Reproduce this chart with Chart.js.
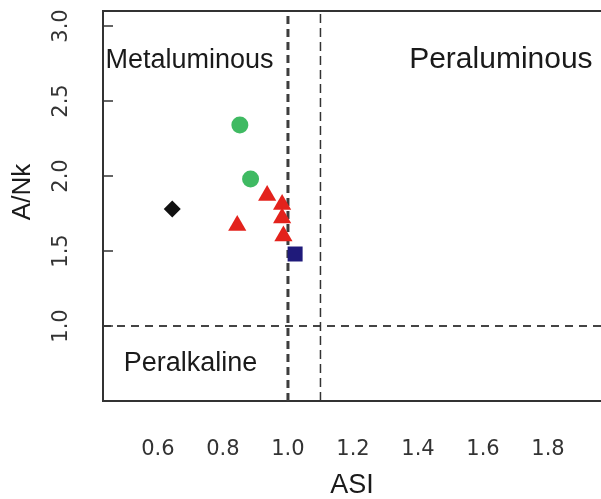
<!DOCTYPE html>
<html>
<head>
<meta charset="utf-8">
<script src="https://cdn.jsdelivr.net/npm/chart.js@4.4.0/dist/chart.umd.min.js"></script>
<style>
  html, body { margin: 0; padding: 0; background: #fff; overflow: hidden; }
</style>
</head>
<body>
<canvas id="myChart" width="601" height="499"></canvas>
<script>
// tick labels
const xTicks = [0.6, 0.8, 1.0, 1.2, 1.4, 1.6, 1.8];
const yTicks = [1.0, 1.5, 2.0, 2.5, 3.0];

// samples (ASI, A/NK)
const greenAsi = [0.852, 0.885];
const greenAnk = [2.34, 1.98];
const blackAsi = [0.644];
const blackAnk = [1.78];
const redAsi = [0.936, 0.982, 0.982, 0.844, 0.986];
const redAnk = [1.87, 1.81, 1.72, 1.67, 1.60];
const blueAsi = [1.022];
const blueAnk = [1.48];

// field boundaries
const asiBound = [1.0, 1.1];
const ankBound = [1.0];

// axis ranges
const xMin = 0.431, xMax = 1.963;
const yMin = 0.5, yMax = 3.1;

// field names and where they sit
const regionNames = ['Metaluminous', 'Peraluminous', 'Peralkaline'];
const regionAsi = [0.697, 1.655, 0.70];
const regionAnk = [2.72, 2.72, 0.70];

function pts(xs, ys) {
    return xs.map((v, i) => ({ x: v, y: ys[i] }));
}

const lineSets = [
    { label: 'ASI 1.0', data: [{ x: asiBound[0], y: yMin }, { x: asiBound[0], y: yMax }],
      borderColor: '#3d3d3d', borderWidth: 3, borderDash: [8, 5] },
    { label: 'ASI 1.1', data: [{ x: asiBound[1], y: yMin }, { x: asiBound[1], y: yMax }],
      borderColor: '#333', borderWidth: 1.5, borderDash: [9, 5] },
    { label: 'A/NK 1.0', data: [{ x: xMin, y: ankBound[0] }, { x: xMax, y: ankBound[0] }],
      borderColor: '#444', borderWidth: 2, borderDash: [8, 6] }
].map(d => Object.assign(d, { showLine: true, pointRadius: 0, fill: false }));

const data = {
    datasets: [
      { label: 'green', data: pts(greenAsi, greenAnk), pointStyle: 'circle', pointRadius: 8.5,
        backgroundColor: '#3fba62', borderWidth: 0 },
      { label: 'black', data: pts(blackAsi, blackAnk), pointStyle: 'rectRot', pointRadius: 8.5,
        backgroundColor: '#111', borderWidth: 0 },
      { label: 'red', data: pts(redAsi, redAnk), pointStyle: 'triangle', pointRadius: 10.5,
        backgroundColor: '#e3221c', borderWidth: 0 },
      { label: 'blue', data: pts(blueAsi, blueAnk), pointStyle: 'rect', pointRadius: 10.6,
        backgroundColor: '#1f1a7a', borderWidth: 0 }
    ].concat(lineSets)
};

const regionSizes = [27, 30, 27];

const framePlugin = {
    id: 'frame',
    afterDatasetsDraw(chart) {
        const { ctx, chartArea, scales: { x, y } } = chart;
        ctx.save();
        ctx.strokeStyle = '#333';
        ctx.lineWidth = 2;
        ctx.beginPath();
        ctx.moveTo(chartArea.left, chartArea.top);
        ctx.lineTo(chartArea.right, chartArea.top);
        ctx.stroke();
        // inward tick marks on the left axis
        ctx.lineWidth = 1.5;
        ctx.beginPath();
        yTicks.forEach(v => {
            const py = y.getPixelForValue(v);
            ctx.moveTo(chartArea.left, py);
            ctx.lineTo(chartArea.left + 10, py);
        });
        ctx.stroke();
        ctx.fillStyle = '#1a1a1a';
        ctx.textAlign = 'center';
        ctx.textBaseline = 'alphabetic';
        regionNames.forEach((t, i) => {
            ctx.font = regionSizes[i] + 'px "Liberation Sans", Arial, sans-serif';
            ctx.fillText(t, x.getPixelForValue(regionAsi[i]), y.getPixelForValue(regionAnk[i]));
        });
        // y axis title, sits a little above the middle in the original
        ctx.font = '26px "Liberation Sans", Arial, sans-serif';
        ctx.textBaseline = 'middle';
        ctx.translate(23, 192);
        ctx.rotate(-Math.PI / 2);
        ctx.fillText('A/Nk', 0, 0);
        ctx.restore();
    }
};

function noPad(s) {
    s.paddingTop = 0;
    s.paddingBottom = 0;
    s.paddingLeft = 0;
    s.paddingRight = 0;
}

const tickFont = { family: '"DejaVu Sans", sans-serif', size: 21 };
const titleFont = { family: '"Liberation Sans", Arial, sans-serif', size: 27, lineHeight: 1 };

const config = {
    type: 'scatter',
    data: data,
    plugins: [framePlugin],
    options: {
      responsive: false,
      animation: false,
      devicePixelRatio: 1,
      layout: { autoPadding: false, padding: { top: 11, left: 0, right: 0, bottom: 0 } },
      plugins: {
        legend: { display: false },
        tooltip: { enabled: false }
      },
      scales: {
        x: {
            type: 'linear',
            min: xMin,
            max: xMax,
            afterBuildTicks: s => { s.ticks = xTicks.map(v => ({ value: v })); },
            afterFit: s => { s.height = 98; noPad(s); },
            ticks: {
                font: tickFont,
                color: '#333',
                padding: 36,
                autoSkip: false,
                maxRotation: 0,
                callback: v => Number(v).toFixed(1)
            },
            grid: { display: false, drawTicks: false },
            border: { display: true, color: '#333', width: 2 },
            title: {
                display: true,
                text: 'ASI',
                color: '#1a1a1a',
                font: titleFont,
                padding: { top: 0, bottom: 0 }
            }
        },
        y: {
            type: 'linear',
            min: yMin,
            max: yMax,
            afterBuildTicks: s => { s.ticks = yTicks.map(v => ({ value: v })); },
            afterFit: s => { s.width = 103; noPad(s); },
            ticks: {
                font: tickFont,
                color: '#333',
                padding: 25,
                autoSkip: false,
                minRotation: 90,
                maxRotation: 90,
                crossAlign: 'center',
                callback: v => Number(v).toFixed(1)
            },
            grid: { display: false, drawTicks: false },
            border: { display: true, color: '#333', width: 2 },
            title: { display: false }
        }
      }
    }
};

var myChart;

function initChart() {
    var ctx = document.getElementById('myChart').getContext('2d');
    myChart = new Chart(ctx, config);
}

initChart();
</script>
</body>
</html>
